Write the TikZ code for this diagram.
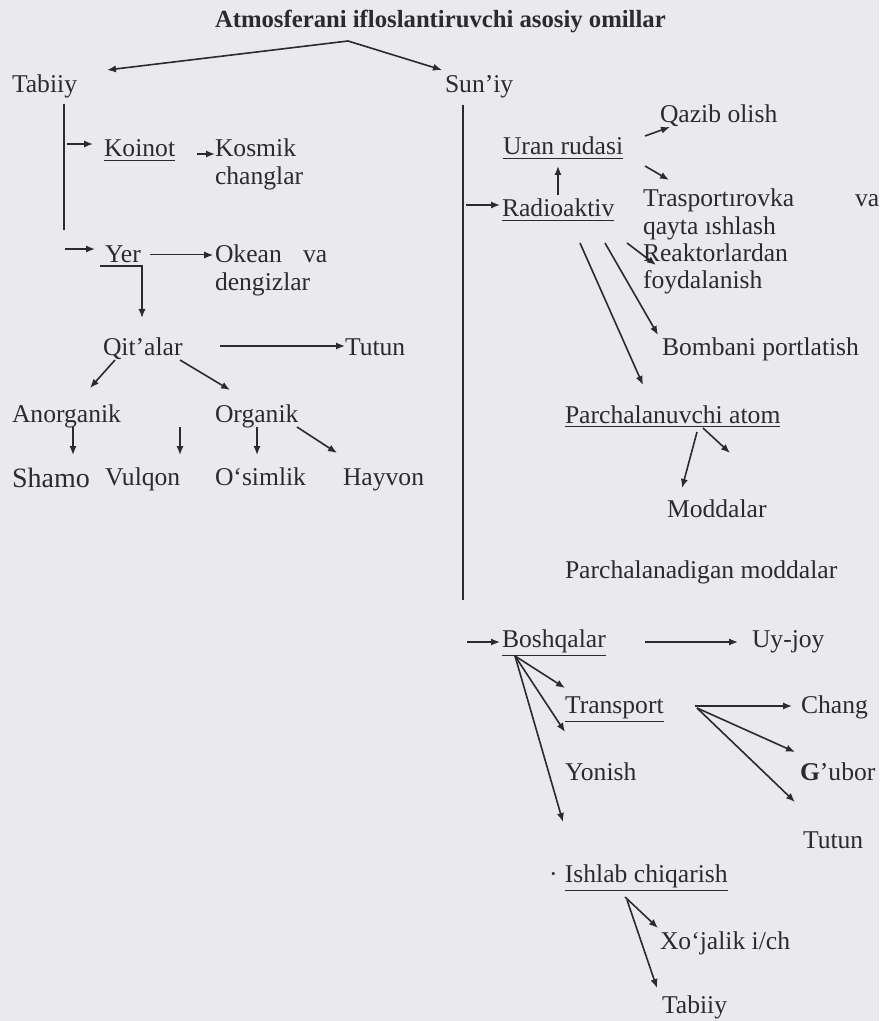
\documentclass[tikz,border=0pt]{standalone}
\usepackage{fontspec}
\setmainfont{Liberation Serif}
\usetikzlibrary{arrows.meta,calc}
\definecolor{ink}{HTML}{2B2B2E}
\definecolor{bg}{HTML}{EAEAEE}
\newcommand{\fsn}{\fontsize{12.8}{15}\selectfont}
\newcommand{\fst}{\fontsize{12.35}{15}\selectfont}
\newcommand{\fsb}{\fontsize{14}{16}\selectfont}
\begin{document}
\begin{tikzpicture}[x=0.5pt,y=-0.5pt,
  txt/.style={anchor=base west,inner sep=0pt,outer sep=0pt,font=\fsn,text=ink},
  arr/.style={-{Latex[length=4.5pt,width=3.6pt]},line width=0.8pt,draw=ink},
  ln/.style={line width=0.8pt,draw=ink}]
\fill[bg] (0,0) rectangle (879,1021);
\useasboundingbox (0,0) rectangle (879,1021);
% ---- nodes ----
\node[txt,font=\fst\bfseries] (title) at (215,28) {Atmosferani ifloslantiruvchi asosiy omillar};
\node[txt] (tabiiy) at (12,93) {Tabiiy};
\node[txt] (suniy) at (445,93) {Sun’iy};
\node[txt] (koinot) at (104,157) {\underline{Koinot}};
\node[txt] (kosmik1) at (215,157) {Kosmik};
\node[txt] (kosmik2) at (215,185) {changlar};
\node[txt] (yer) at (105,263) {Yer};
\node[txt] (okean) at (215,263) {Okean};
\node[txt] (okeanva) at (303,263) {va};
\node[txt] (dengiz) at (215,291) {dengizlar};
\node[txt] (qitalar) at (103,355) {Qit’alar};
\node[txt] (tutun1) at (345,355) {Tutun};
\node[txt] (anorganik) at (12,422) {Anorganik};
\node[txt] (organik) at (215,422) {Organik};
\node[txt,font=\fsb] (shamo) at (12,487) {Shamo};
\node[txt] (vulqon) at (105,485) {Vulqon};
\node[txt] (osimlik) at (215,485) {O‘simlik};
\node[txt] (hayvon) at (343,485) {Hayvon};
% right
\node[txt] (qazib) at (660,123) {Qazib olish};
\node[txt] (uran) at (503,155) {\underline{Uran rudasi}};
\node[txt] (radio) at (502,217) {\underline{Radioaktiv}};
\node[txt] (trasp) at (643,207) {Trasportırovka};
\node[txt] (traspva) at (855,207) {va};
\node[txt] (qayta) at (643,235) {qayta ıshlash};
\node[txt] (reakt) at (643,262) {Reaktorlardan};
\node[txt] (foyda) at (643,289) {foydalanish};
\node[txt] (bomba) at (662,355) {Bombani portlatish};
\node[txt] (parch) at (565,423) {\underline{Parchalanuvchi atom}};
\node[txt] (moddalar) at (667,517) {Moddalar};
\node[txt] (parchmod) at (565,578) {Parchalanadigan moddalar};
\node[txt] (boshq) at (502,647) {\underline{Boshqalar}};
\node[txt] (uyjoy) at (752,647) {Uy-joy};
\node[txt] (transport) at (565,713) {\underline{Transport}};
\node[txt] (chang) at (801,713) {Chang};
\node[txt] (yonish) at (565,780) {Yonish};
\node[txt] (gubor) at (800,780) {\textbf{G}’ubor};
\node[txt] (tutun2) at (803,848) {Tutun};
\node[txt] (ishlab) at (549,882) {·\hspace{3.7pt}\underline{Ishlab chiqarish}};
\node[txt] (xojalik) at (660,949) {Xo‘jalik i/ch};
\node[txt] (tabiiy2) at (662,1013) {Tabiiy};
% ---- connectors: left ----
\draw[arr] ($(title.base west)+(133,13)$) -- ($(tabiiy.base west)+(95,-23)$);
\draw[arr] ($(title.base west)+(133,13)$) -- ($(suniy.base west)+(-3,-23)$);
\draw[ln] ($(tabiiy.base west)+(52,11)$) -- ($(tabiiy.base west)+(52,137)$);
\draw[arr] ($(koinot.base west)+(-37,-13)$) -- ($(koinot.base west)+(-11,-13)$);
\draw[arr] ($(kosmik1.base west)+(-18,-3)$) -- ($(kosmik1.base west)+(0,-3)$);
\draw[arr] ($(yer.base west)+(-40,-14)$) -- ($(yer.base west)+(-10,-14)$);
\draw[arr,line width=1pt] ($(yer.base west)+(-5,3)$) -| ($(qitalar.base west)+(39,-37)$);
\draw[arr,line width=0.5pt] ($(yer.base west)+(45,-8)$) -- ($(okean.base west)+(-2,-8)$);
\draw[arr] ($(qitalar.base west)+(117,-9)$) -- ($(tutun1.base west)+(0,-9)$);
\draw[arr] ($(qitalar.base west)+(12,5)$) -- ($(anorganik.base west)+(78,-34)$);
\draw[arr] ($(qitalar.base west)+(77,5)$) -- ($(organik.base west)+(15,-32)$);
\draw[arr] ($(anorganik.base west)+(61,5)$) -- ($(shamo.base west)+(61,-32)$);
\draw[arr] ($(anorganik.base west)+(168,5)$) -- ($(vulqon.base west)+(75,-30)$);
\draw[arr] ($(organik.base west)+(42,5)$) -- ($(osimlik.base west)+(42,-30)$);
\draw[arr] ($(organik.base west)+(82,5)$) -- ($(hayvon.base west)+(-6,-32)$);
% ---- connectors: right ----
\draw[ln] ($(suniy.base west)+(18,12)$) -- ($(suniy.base west)+(18,507)$);
\draw[arr] ($(radio.base west)+(-36,-12)$) -- ($(radio.base west)+(-2,-12)$);
\draw[arr] ($(radio.base west)+(56,-22)$) -- ($(uran.base west)+(55,11)$);
\draw[arr] ($(uran.base west)+(142,-19)$) -- ($(qazib.base west)+(10,4)$);
\draw[arr] ($(uran.base west)+(142,11)$) -- ($(trasp.base west)+(26,-27)$);
\draw[arr] ($(radio.base west)+(125,26)$) -- ($(reakt.base west)+(13,3)$);
\draw[arr] ($(radio.base west)+(78,26)$) -- ($(parch.base west)+(78,-38)$);
\draw[arr] ($(radio.base west)+(103,26)$) -- ($(bomba.base west)+(-4,-20)$);
\draw[arr] ($(parch.base west)+(132,9)$) -- ($(moddalar.base west)+(15,-29)$);
\coordinate (pfree) at ($(parch.base west)+(165,30)$);
\draw[arr] ($(parch.base west)+(138,5)$) -- (pfree);
\draw[arr] ($(boshq.base west)+(-35,-5)$) -- ($(boshq.base west)+(-2,-5)$);
\draw[arr] ($(boshq.base west)+(143,-5)$) -- ($(uyjoy.base west)+(-14,-5)$);
\draw[arr] ($(boshq.base west)+(13,9)$) -- ($(transport.base west)+(0,-25)$);
\draw[arr] ($(boshq.base west)+(13,9)$) -- ($(yonish.base west)+(0,-48)$);
\draw[arr] ($(boshq.base west)+(13,9)$) -- ($(ishlab.base west)+(14,-60)$);
\draw[arr] ($(transport.base west)+(130,-7)$) -- ($(chang.base west)+(-9,-7)$);
\draw[arr] ($(transport.base west)+(132,-5)$) -- ($(gubor.base west)+(-5,-28)$);
\draw[arr] ($(transport.base west)+(132,-5)$) -- ($(tutun2.base west)+(-8,-46)$);
\draw[arr] ($(ishlab.base west)+(76,15)$) -- ($(xojalik.base west)+(-2,-21)$);
\draw[arr] ($(ishlab.base west)+(78,18)$) -- ($(tabiiy2.base west)+(-5,-25)$);
\end{tikzpicture}
\end{document}
